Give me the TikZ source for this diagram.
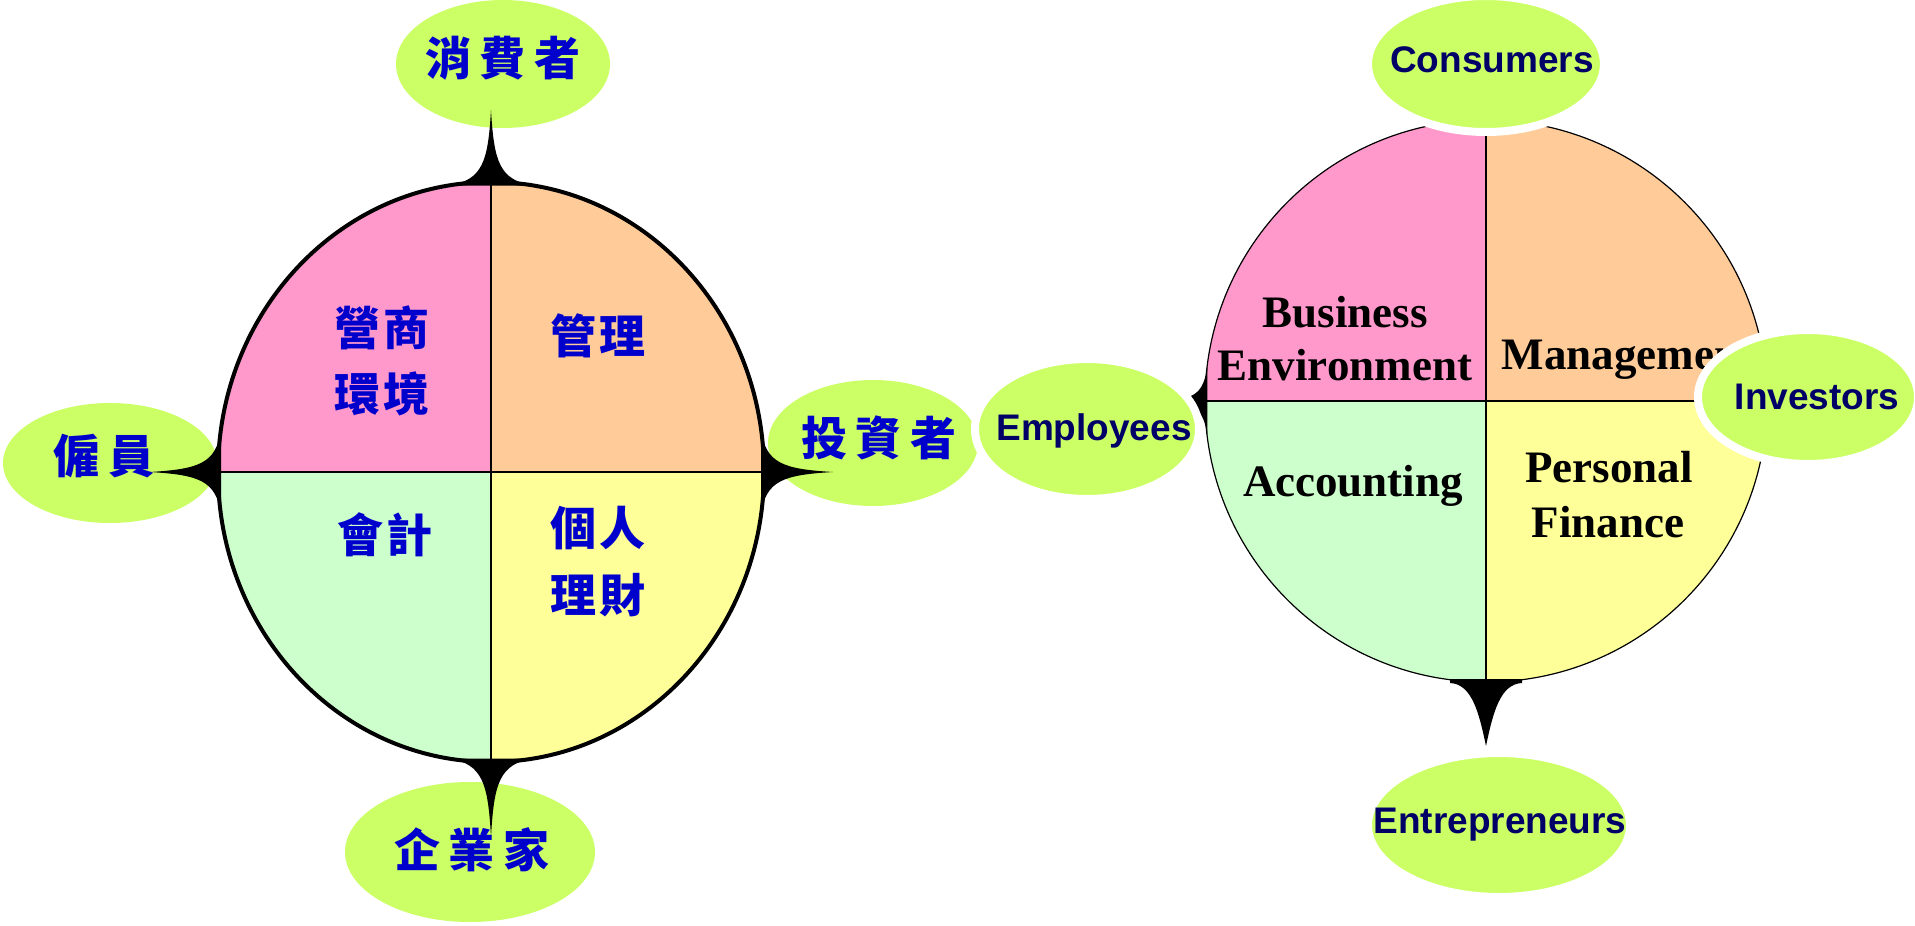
\documentclass[tikz,border=0pt]{standalone}
\usepackage{fontspec}
\setmainfont{Liberation Serif}
\newfontfamily\arialf{Liberation Sans}
\newfontfamily\cjkf{Noto Sans CJK TC}
\usetikzlibrary{shapes.geometric}
\definecolor{qpink}{HTML}{FF99CC}
\definecolor{qorange}{HTML}{FFCC99}
\definecolor{qgreen}{HTML}{CCFFCC}
\definecolor{qyellow}{HTML}{FFFF99}
\definecolor{lime}{HTML}{CCFF66}
\definecolor{cjkblue}{HTML}{0000CC}
\definecolor{navyt}{HTML}{000066}
\tikzset{
  bubble/.style={ellipse, fill=lime, inner sep=0pt, outer sep=0pt},
  wbubble/.style={bubble, draw=white, line width=8pt},
  cjklab/.style={anchor=base, text=cjkblue, font=\cjkf\bfseries\fontsize{46}{55}\selectfont, inner sep=0pt},
  enlab/.style={anchor=base, text=navyt, font=\arialf\bfseries\fontsize{37}{44}\selectfont, inner sep=0pt},
  qlab/.style={anchor=base, text=black, font=\bfseries\fontsize{45}{53}\selectfont, inner sep=0pt},
  pics/spike/.style n args={3}{code={
    \fill[black] (-#1,#3) .. controls (-0.2*#1,-2) and (-3,-0.28*#2) .. (0,-#2)
      .. controls (3,-0.28*#2) and (0.2*#1,-2) .. (#1,#3) -- cycle;}},
  pics/bspike/.style n args={3}{code={
    \fill[black] (-#1,#3) -- (-#1,-1) .. controls (-0.39*#1,-2) and (-7,-0.48*#2) .. (0,-#2)
      .. controls (7,-0.48*#2) and (0.39*#1,-2) .. (#1,-1) -- (#1,#3) -- cycle;}},
}
\begin{document}
\begin{tikzpicture}[x=1pt,y=-1pt]
\fill[white] (0,0) rectangle (1915,926);
\useasboundingbox (0,0) rectangle (1915,926);

% ---------- left diagram ----------
\node[bubble, minimum width=214pt, minimum height=128pt] (eXF) at (503,64) {};
\node[bubble, minimum width=214pt, minimum height=120pt] (eGY) at (110,463) {};
\node[bubble, minimum width=210pt, minimum height=126pt] (eTZ) at (873,443) {};
\node[bubble, minimum width=250pt, minimum height=140pt] (eQY) at (470,852) {};

\coordinate (Lc) at (491,472);
\begin{scope}
  \clip (Lc) ellipse [x radius=273, y radius=290];
  \fill[qpink] (Lc) rectangle ++(-300,-300);
  \fill[qorange] (Lc) rectangle ++(300,-300);
  \fill[qgreen] (Lc) rectangle ++(-300,300);
  \fill[qyellow] (Lc) rectangle ++(300,300);
\end{scope}
\node[ellipse, draw, line width=4pt, minimum width=546pt, minimum height=580pt, inner sep=0pt, outer sep=0pt] (L) at (Lc) {};
\draw[line width=1.5pt] (L.north) -- (L.south);
\draw[line width=1.5pt] (L.west) -- (L.east);

\pic at (L.north) {spike={42}{72}{3.5}};
\pic[rotate=180] at (L.south) {spike={42}{75}{3.5}};
\pic[rotate=90] at (L.west) {spike={42}{68}{3}};
\pic[rotate=-90] at (L.east) {spike={42}{69}{3}};

\node[cjklab] (tYS1) at (382,345) {營\hspace{3pt}商};
\node[cjklab] (tYS2) at (382,411) {環\hspace{3pt}境};
\node[cjklab] (tGL) at (598,353) {管\hspace{3pt}理};
\node[cjklab] (tKJ) at (385,552) {會\hspace{3pt}計};
\node[cjklab] (tGR1) at (598,545) {個\hspace{3pt}人};
\node[cjklab] (tGR2) at (598,612) {理\hspace{3pt}財};

\node[cjklab] (tXF) at (503,75) {消\hspace{9pt}費\hspace{9pt}者};
\node[cjklab] (tGY) at (104,473) {僱\hspace{9pt}員};
\node[cjklab] (tTZ) at (879,455) {投\hspace{9pt}資\hspace{9pt}者};
\node[cjklab] (tQY) at (472,867) {企\hspace{9pt}業\hspace{9pt}家};

% ---------- right diagram ----------
\coordinate (Rc) at (1486,401);
\begin{scope}
  \clip (Rc) circle [radius=281];
  \fill[qpink] (Rc) rectangle ++(-300,-300);
  \fill[qorange] (Rc) rectangle ++(300,-300);
  \fill[qgreen] (Rc) rectangle ++(-300,300);
  \fill[qyellow] (Rc) rectangle ++(300,300);
\end{scope}
\node[circle, draw, line width=1.2pt, minimum size=562pt, inner sep=0pt, outer sep=0pt] (R) at (Rc) {};
\draw[line width=1.3pt] (R.north) -- (R.south);
\draw[line width=1.3pt] (R.west) -- (R.east);

\node[qlab] (tBE1) at (1345,327) {Business};
\node[qlab] (tBE2) at (1345,380) {Environment};
\node[qlab] (tMG) at (1628,369) {Management};
\node[qlab] (tAC) at (1353,496) {Accounting};
\node[qlab] (tPF1) at (1609,482) {Personal};
\node[qlab] (tPF2) at (1608,537) {Finance};

\pic[rotate=90] at (R.west) {spike={34}{38}{2.3}};
\pic[rotate=180] at (R.south) {bspike={36}{64}{3}};

\node[wbubble, minimum width=236pt, minimum height=136pt] (eCons) at (1486,64) {};
\node[wbubble, minimum width=224pt, minimum height=140pt] (eEmp) at (1087,429) {};
\node[wbubble, minimum width=220pt, minimum height=134pt] (eInv) at (1808,397) {};
\node[wbubble, minimum width=262pt, minimum height=144pt] (eEnt) at (1499,825) {};

\node[enlab] (tCons) at (1492,72) {Consumers};
\node[enlab] (tEmp) at (1094,440) {Employees};
\node[enlab] (tInv) at (1817,409) {Investors};
\node[enlab] (tEnt) at (1500,833) {Entrepreneurs};
\end{tikzpicture}
\end{document}
